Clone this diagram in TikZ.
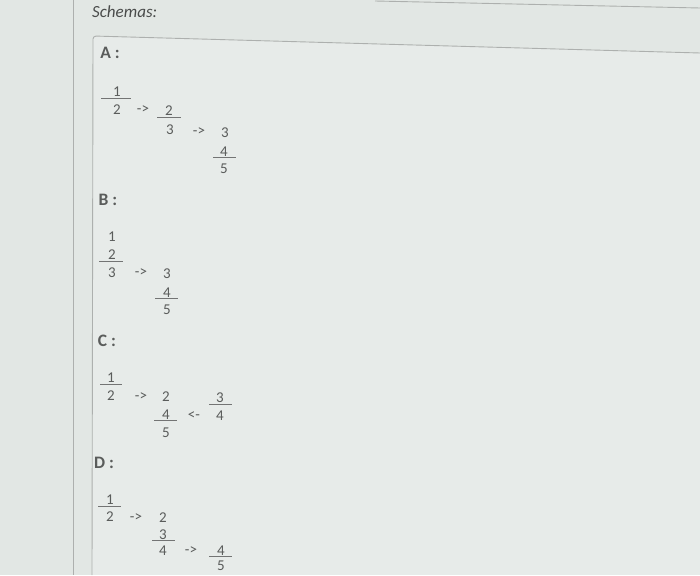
\documentclass[tikz,border=0pt]{standalone}
\usepackage{fontspec}
\setmainfont{Carlito}
\definecolor{bg}{HTML}{E2E7E4}
\definecolor{frame}{HTML}{ADB0AE}
\definecolor{txt}{HTML}{5A5C5B}
\definecolor{ttl}{HTML}{4A4C4B}
\tikzset{
  dig/.style={font=\fontsize{15}{18}\selectfont, text=txt, inner sep=0pt, anchor=center},
  arr/.style={dig},
  hdr/.style={font=\bfseries\fontsize{17.5}{20}\selectfont, text=txt, inner sep=0pt},
  ttlstyle/.style={font=\itshape\fontsize{17}{20}\selectfont, text=ttl, inner sep=0pt, anchor=west},
  ul/.style={draw=txt!85, line width=0.8pt},
  frameline/.style={draw=frame, line width=0.9pt}
}
\begin{document}
\begin{tikzpicture}[x=1pt,y=-1pt]
\useasboundingbox (0,0) rectangle (700,575);
\fill[bg] (0,0) rectangle (700,575);
\fill[white, opacity=0.2] (93,36) -- (700,53) -- (700,575) -- (92,575) -- cycle;
% frame lines
\coordinate (v1) at (73,0);
\coordinate (v2) at (73,575);
\draw[frameline] (v1) -- (v2);
\coordinate (p1) at (700,53);
\coordinate (p2) at (93,36);
\coordinate (p3) at (92,575);
\draw[frameline, rounded corners=3pt] (p1) -- (p2) -- (p3);
\coordinate (t1) at (375,1);
\coordinate (t2) at (700,8);
\draw[frameline] (t1) -- (t2);
% title
\node[ttlstyle] (title) at (92,12) {Schemas:};
% A
\node[hdr] (hA) at (110,53) {A :};
\node[dig] (a1) at (117,92) {1};
\node[dig] (a2) at (117,110) {2};
\node[arr] (aa1) at (143,110) {->};
\node[dig] (a3) at (169,111) {2};
\node[dig] (a4) at (170,130) {3};
\node[arr] (aa2) at (199,132) {->};
\node[dig] (a5) at (225,133) {3};
\node[dig] (a6) at (224,152) {4};
\node[dig] (a7) at (224,169) {5};
\draw[ul] ([xshift=-16pt,yshift=-6pt]a1.center) -- ([xshift=14pt,yshift=-6pt]a1.center);
\draw[ul] ([xshift=-12pt,yshift=-6pt]a3.center) -- ([xshift=12pt,yshift=-6pt]a3.center);
\draw[ul] ([xshift=-11pt,yshift=-5pt]a6.center) -- ([xshift=12pt,yshift=-5pt]a6.center);
% B
\node[hdr] (hB) at (108,200) {B :};
\node[dig] (b1) at (112,237) {1};
\node[dig] (b2) at (112,255) {2};
\node[dig] (b3) at (112,273) {3};
\node[arr] (ba1) at (141,273) {->};
\node[dig] (b4) at (167,274) {3};
\node[dig] (b5) at (167,293) {4};
\node[dig] (b6) at (167,310) {5};
\draw[ul] ([xshift=-13pt,yshift=-6pt]b2.center) -- ([xshift=11pt,yshift=-6pt]b2.center);
\draw[ul] ([xshift=-12pt,yshift=-5pt]b5.center) -- ([xshift=11pt,yshift=-5pt]b5.center);
% C
\node[hdr] (hC) at (107,341) {C :};
\node[dig] (c1) at (111,378) {1};
\node[dig] (c2) at (111,396) {2};
\node[arr] (ca1) at (141,397) {->};
\node[dig] (c3) at (166,397) {2};
\node[dig] (c4) at (166,415) {4};
\node[dig] (c5) at (166,433) {5};
\node[arr] (ca2) at (194,416) {<-};
\node[dig] (c6) at (220,398) {3};
\node[dig] (c7) at (220,416) {4};
\draw[ul] ([xshift=-11pt,yshift=-6pt]c1.center) -- ([xshift=11pt,yshift=-6pt]c1.center);
\draw[ul] ([xshift=-12pt,yshift=-5pt]c4.center) -- ([xshift=11pt,yshift=-5pt]c4.center);
\draw[ul] ([xshift=-11pt,yshift=-6pt]c6.center) -- ([xshift=12pt,yshift=-6pt]c6.center);
% D
\node[hdr] (hD) at (104,463) {D :};
\node[dig] (d1) at (110,500) {1};
\node[dig] (d2) at (110,517) {2};
\node[arr] (da1) at (136,518) {->};
\node[dig] (d3) at (163,518) {2};
\node[dig] (d4) at (163,535) {3};
\node[dig] (d5) at (163,551) {4};
\node[arr] (da2) at (191,551) {->};
\node[dig] (d6) at (221,551) {4};
\node[dig] (d7) at (221,566) {5};
\draw[ul] ([xshift=-12pt,yshift=-6pt]d1.center) -- ([xshift=11pt,yshift=-6pt]d1.center);
\draw[ul] ([xshift=-11pt,yshift=-5pt]d4.center) -- ([xshift=12pt,yshift=-5pt]d4.center);
\draw[ul] ([xshift=-12pt,yshift=-5pt]d6.center) -- ([xshift=11pt,yshift=-5pt]d6.center);
\end{tikzpicture}
\end{document}
